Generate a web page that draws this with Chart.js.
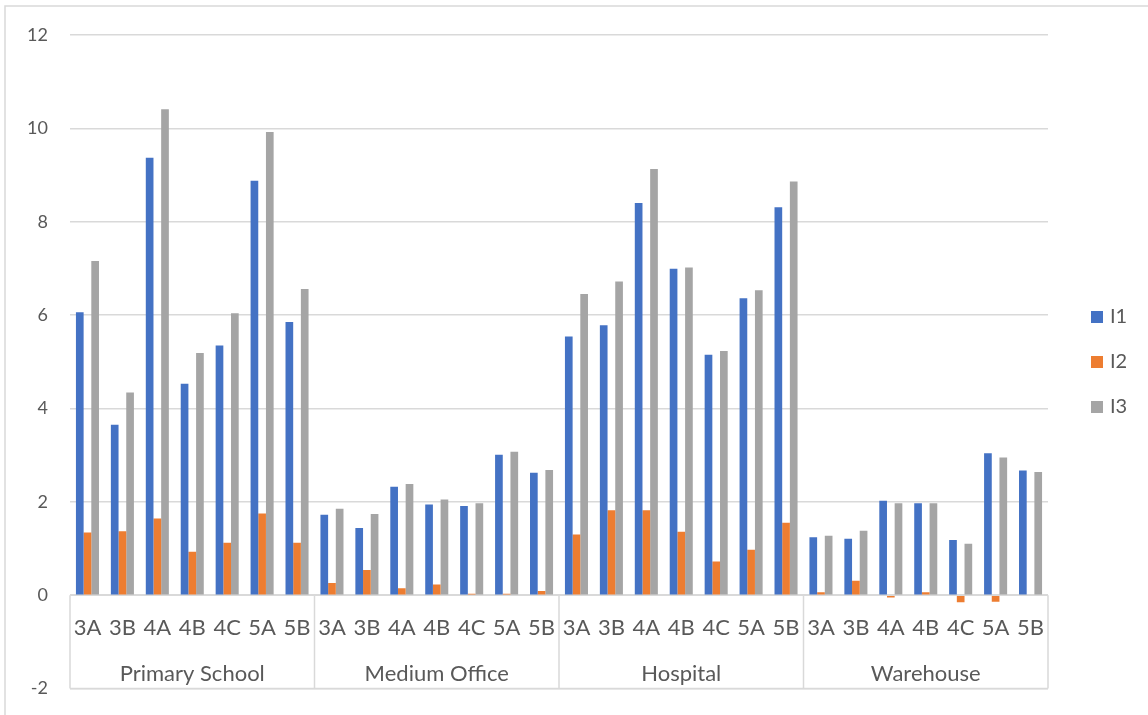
<!DOCTYPE html>
<html lang="en">
<head>
<meta charset="UTF-8" />
<title>I1 / I2 / I3 by building type and climate zone</title>
<script src="https://cdn.jsdelivr.net/npm/chart.js"></script>
<style>
  html, body { margin: 0; padding: 0; background: #fff; overflow: hidden; }
  canvas { display: block; }
</style>
</head>
<body>
<canvas id="chart" width="1148" height="715"></canvas>
<script>
// climate zones repeat inside every building group
const zones = ['3A', '3B', '4A', '4B', '4C', '5A', '5B'];
const buildings = ['Primary School', 'Medium Office', 'Hospital', 'Warehouse'];
const yTicks = [-2, 0, 2, 4, 6, 8, 10, 12];

const i1 = [6.06, 3.65, 9.37, 4.53, 5.35, 8.88, 5.85,
            1.72, 1.44, 2.32, 1.94, 1.91, 3.01, 2.62,
            5.54, 5.78, 8.40, 6.99, 5.15, 6.36, 8.31,
            1.24, 1.21, 2.02, 1.97, 1.18, 3.04, 2.67];
const i2 = [1.34, 1.37, 1.64, 0.93, 1.12, 1.75, 1.12,
            0.26, 0.54, 0.15, 0.23, 0.03, 0.03, 0.09,
            1.30, 1.82, 1.82, 1.36, 0.72, 0.97, 1.55,
            0.06, 0.31, -0.05, 0.06, -0.15, -0.14, 0];
const i3 = [7.16, 4.34, 10.41, 5.19, 6.04, 9.92, 6.56,
            1.85, 1.74, 2.38, 2.05, 1.97, 3.07, 2.68,
            6.45, 6.72, 9.13, 7.02, 5.23, 6.53, 8.86,
            1.27, 1.38, 1.97, 1.97, 1.10, 2.95, 2.64];

const seriesNames = ['I1', 'I2', 'I3'];
const seriesColors = ['#4472C4', '#ED7D31', '#A5A5A5'];

const labels = [];
buildings.forEach(b => zones.forEach(z => labels.push(z)));

const textColor = '#595959';
const lineColor = '#D9D9D9';
const fontFamily = 'Lato, "Open Sans", sans-serif';

// two-level category axis: zone labels in a box under the zero line, building names below
const groupAxis = {
  id: 'groupAxis',
  beforeDatasetsDraw(chart) {
    const ctx = chart.ctx, x = chart.scales.x, y = chart.scales.y;
    const top = y.getPixelForValue(0), bottom = y.getPixelForValue(-2);
    ctx.save();
    ctx.strokeStyle = lineColor;
    ctx.lineWidth = 1.5;
    ctx.beginPath();
    ctx.moveTo(x.left, top); ctx.lineTo(x.right, top);
    ctx.moveTo(x.left, bottom); ctx.lineTo(x.right, bottom);
    for (let g = 0; g <= buildings.length; g++) {
      const px = g === 0 ? x.left : g === buildings.length ? x.right : x.getPixelForValue(g * zones.length - 0.5);
      ctx.moveTo(px, top); ctx.lineTo(px, bottom);
    }
    ctx.stroke();
    ctx.restore();
  },
  afterDatasetsDraw(chart) {
    const ctx = chart.ctx, x = chart.scales.x, y = chart.scales.y;
    const top = y.getPixelForValue(0);
    ctx.save();
    ctx.fillStyle = textColor;
    ctx.textAlign = 'center';
    ctx.textBaseline = 'middle';
    ctx.font = '22px ' + fontFamily;
    labels.forEach((l, i) => ctx.fillText(l, x.getPixelForValue(i), top + 33));
    buildings.forEach((b, g) => {
      const c = (x.getPixelForValue(g * zones.length) + x.getPixelForValue(g * zones.length + zones.length - 1)) / 2;
      ctx.fillText(b, c, top + 79);
    });

    // legend on the right
    ctx.font = '20px ' + fontFamily;
    ctx.textAlign = 'left';
    chart.data.datasets.forEach((ds, i) => {
      const cy = 317 + i * 45;
      ctx.fillStyle = ds.backgroundColor;
      ctx.fillRect(1091, cy - 6, 12, 12);
      ctx.fillStyle = textColor;
      ctx.fillText(ds.label, 1110, cy);
    });

    // chart frame
    ctx.strokeStyle = lineColor;
    ctx.lineWidth = 1.5;
    ctx.strokeRect(5, 6, 1200, 800);
    ctx.restore();
  }
};

new Chart(document.getElementById('chart'), {
  type: 'bar',
  data: {
    labels: labels,
    datasets: [i1, i2, i3].map((d, i) => ({
      label: seriesNames[i],
      data: d,
      backgroundColor: seriesColors[i],
      categoryPercentage: 0.66,
      barPercentage: 1.0
    }))
  },
  options: {
    responsive: false,
    animation: false,
    layout: { padding: { left: 0, top: 35, right: 100, bottom: 26.5 } },
    plugins: { legend: { display: false }, tooltip: { enabled: false } },
    scales: {
      x: { display: false },
      y: {
        min: yTicks[0],
        max: yTicks[yTicks.length - 1],
        afterBuildTicks: s => { s.ticks = yTicks.map(v => ({ value: v })); },
        afterFit: s => { s.width = 70; s.paddingTop = 0; s.paddingBottom = 0; },
        border: { display: false },
        grid: { color: lineColor, lineWidth: 1.5, drawTicks: false },
        ticks: { color: textColor, padding: 22, font: { family: fontFamily, size: 18 } }
      }
    }
  },
  plugins: [groupAxis]
});
</script>
</body>
</html>
